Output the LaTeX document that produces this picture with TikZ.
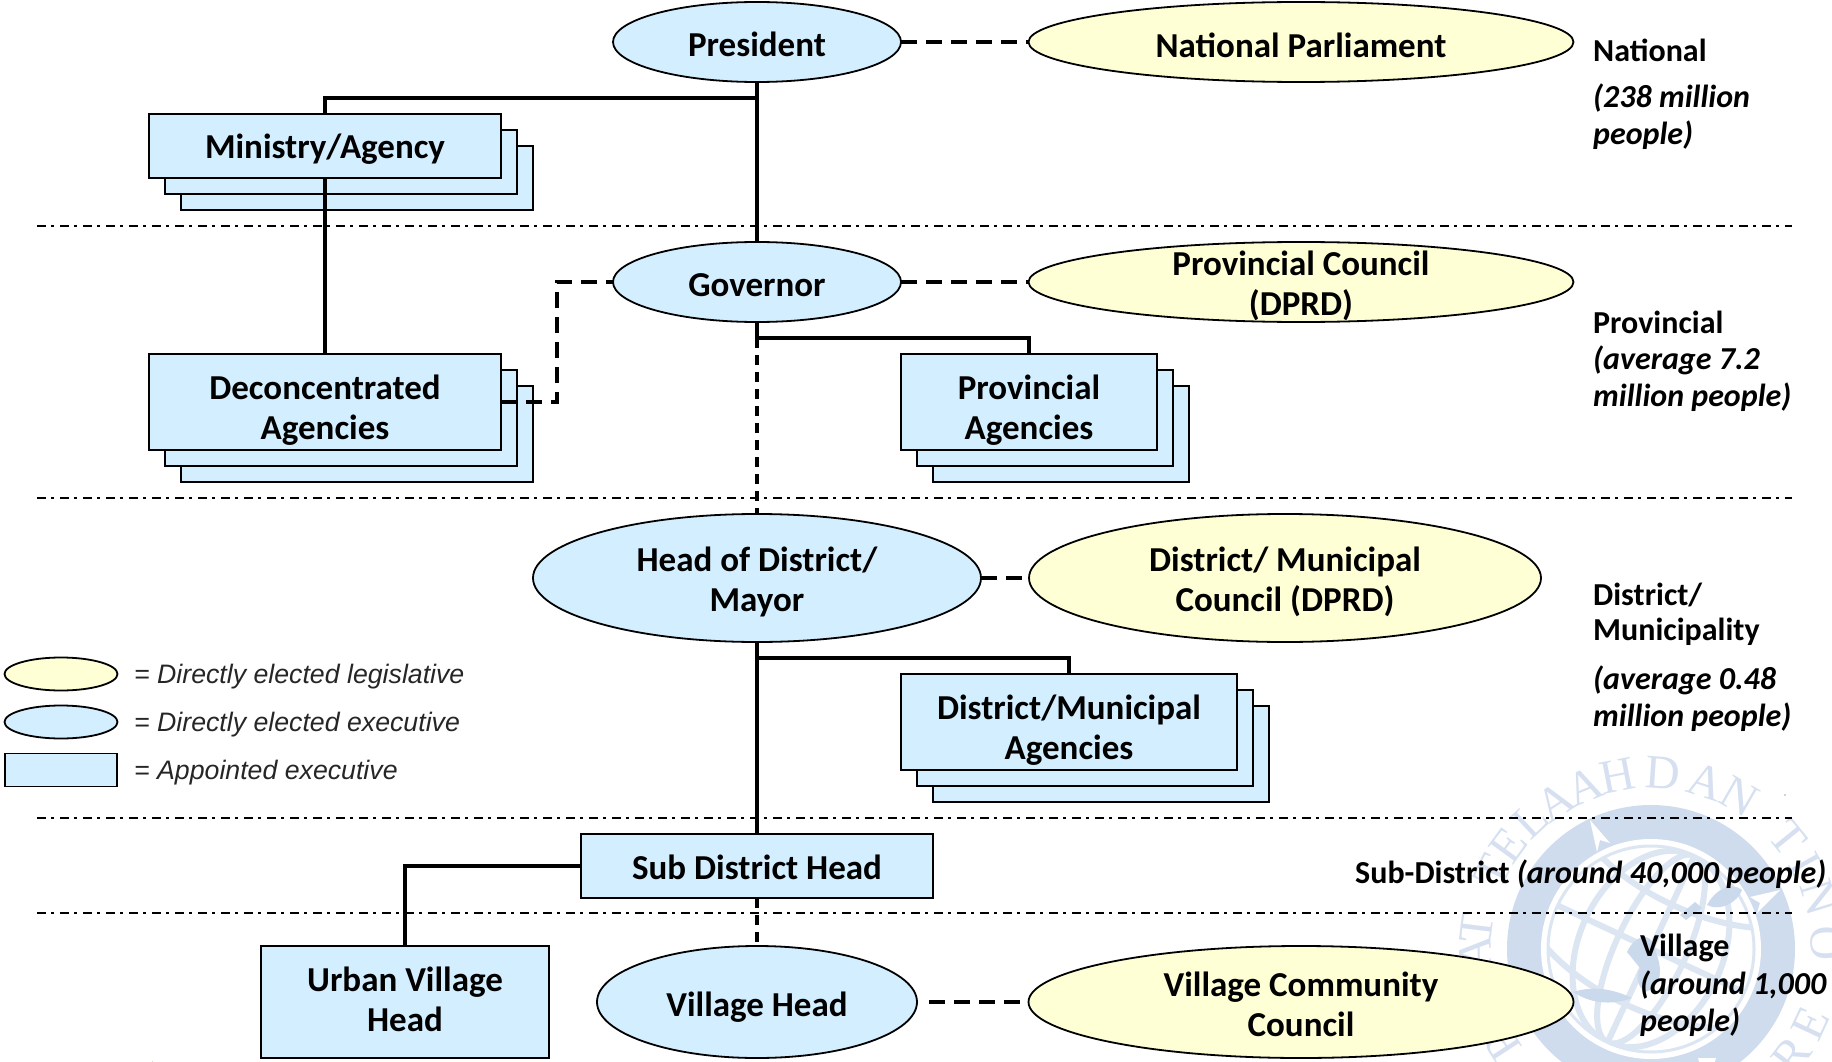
\documentclass[tikz,border=0pt]{standalone}
\usepackage{fontspec}
\setmainfont{Carlito}
\newfontfamily\legendfont{Liberation Sans}
\newfontfamily\sealfont{Liberation Serif}
\usetikzlibrary{shapes.geometric}
\definecolor{boxblue}{HTML}{D3EFFF}
\definecolor{boxyellow}{HTML}{FFFFD5}
\definecolor{sealring}{HTML}{CFDCEE}
\definecolor{sealline}{HTML}{DCE5F2}
\definecolor{sealtext}{HTML}{D6E0F0}
\definecolor{sealland}{HTML}{CBD9EC}
\tikzset{
  ell/.style={ellipse,draw=black,line width=1.8pt,inner sep=0pt,outer sep=0pt},
  execell/.style={ell,fill=boxblue},
  legell/.style={ell,fill=boxyellow},
  rbox/.style={rectangle,draw=black,line width=1.8pt,fill=boxblue,inner sep=0pt,outer sep=0pt},
  lbl/.style={align=center,inner sep=0pt,font=\fontsize{35}{40}\selectfont\bfseries},
  solidconn/.style={draw=black,line width=3.6pt},
  dashconn/.style={draw=black,line width=3.6pt,dash pattern=on 16pt off 9pt},
  dashthin/.style={draw=black,line width=3.4pt,dash pattern=on 10pt off 7pt},
  tierline/.style={draw=black,line width=1.5pt,dash pattern=on 9pt off 5pt on 3pt off 6pt},
  side/.style={anchor=west,inner sep=0pt,font=\fontsize{32}{38}\selectfont\bfseries},
  sideit/.style={side,font=\fontsize{32}{38}\selectfont\bfseries\itshape},
  legtext/.style={anchor=west,inner sep=0pt,font=\legendfont\fontsize{26.7}{30}\selectfont\itshape,text=black!85},
  sealch/.style={text=sealtext,inner sep=0pt,font=\sealfont\fontsize{48}{48}\selectfont}
}
\begin{document}
\begin{tikzpicture}[x=1pt,y=-1pt]
\useasboundingbox (0,0) rectangle (1832,1062);
% watermark seal
\begin{scope}
\clip (0,0) rectangle (1832,1062);
\fill[sealring] (1651,949) circle[radius=144];
\fill[white] (1651,949) circle[radius=110];
\draw[sealline,line width=3pt] (1651,949) circle[radius=103];
\begin{scope}
\clip (1651,949) circle[radius=103];
\begin{scope}[shift={(1651,949)},rotate=-25]
\foreach \rr in {35,72}{\draw[sealline,line width=6pt] (0,0) ellipse[x radius=\rr,y radius=103];}
\draw[sealline,line width=6pt] (0,-103) -- (0,103);
\draw[sealline,line width=6pt] (-103,0) -- (103,0);
\foreach \yy in {-55,55}{\draw[sealline,line width=6pt] (-95,\yy-12) .. controls (-40,\yy+12) and (40,\yy+12) .. (95,\yy-12);}
\end{scope}
\end{scope}
\fill[sealland] (1627,952) .. controls (1635,935) and (1650,932) .. (1653,945) .. controls (1662,965) and (1665,985) .. (1645,992) .. controls (1636,985) and (1636,975) .. (1640,968) -- cycle;
\fill[sealland] (1573,992) .. controls (1595,985) and (1615,990) .. (1632,998) .. controls (1610,1006) and (1590,1003) .. cycle;
\fill[sealland] (1707,905) .. controls (1716,888) and (1733,882) .. (1742,890) .. controls (1738,902) and (1720,912) .. cycle;
\fill[sealland] (1680,915) -- (1695,902) -- (1702,908) -- (1686,920) -- cycle;
\fill[white] (1590,820) -- (1610,843) -- (1600,840) -- (1597,852) -- cycle;
\fill[white] (1780,890) -- (1757,913) -- (1760,903) -- (1750,897) -- cycle;
\fill[white] (1707,1090) -- (1698,1058) -- (1716,1058) -- cycle;
\foreach \ch/\ang in {A/181,T/173,T/154,E/144,L/133,A/123,A/112,H/101,D/86,A/72,N/60,T/39,I/29,N/17,O/2}{
  \node[sealch,rotate=\ang-90] (seal\ang) at ({1651+176*cos(\ang)},{949-176*sin(\ang)}) {\ch};
}
\foreach \ch/\ang in {S/192,U/203,P/213}{
  \node[sealch,rotate=\ang-90] (seal\ang) at ({1651+176*cos(\ang)},{949-176*sin(\ang)}) {\ch};
}
\foreach \ch/\ang in {E/-25,R/-37}{
  \node[sealch,rotate=\ang+90] (seal\ang) at ({1651+176*cos(\ang)},{949-176*sin(\ang)}) {\ch};
}
\fill[gray!70] (1785,795) circle[radius=0.8];
\draw[black!20!red!50!black,line width=1.4pt] (152,1062) arc[start angle=180,end angle=20,radius=4.5];
\end{scope}
% tier lines
\foreach \yy/\nm in {226/a,498/b,818/c,913/d}{
  \coordinate (tl\nm) at (37,\yy);
  \coordinate (tr\nm) at (1792,\yy);
  \draw[tierline] (tl\nm) -- (tr\nm);
}
% stacked back boxes
\node[rbox,minimum width=352pt,minimum height=64pt] (minC) at (357,178) {};
\node[rbox,minimum width=352pt,minimum height=64pt] (minB) at (341,162) {};
\node[rbox,minimum width=352pt,minimum height=96pt] (decC) at (357,434) {};
\node[rbox,minimum width=352pt,minimum height=96pt] (decB) at (341,418) {};
\node[rbox,minimum width=256pt,minimum height=96pt] (provC) at (1061,434) {};
\node[rbox,minimum width=256pt,minimum height=96pt] (provB) at (1045,418) {};
\node[rbox,minimum width=336pt,minimum height=96pt] (distC) at (1101,754) {};
\node[rbox,minimum width=336pt,minimum height=96pt] (distB) at (1085,738) {};
\coordinate (jpres) at (757,98);
\coordinate (jgov) at (757,338);
\coordinate (jdist) at (757,658);
\coordinate (jdec) at (557,402);
\coordinate (jcall) at (929,1002);
% nodes
\node[execell,minimum width=288pt,minimum height=80pt,label={[lbl,yshift=-2pt]center:President}] (pres) at (757,42) {};
\node[legell,minimum width=545pt,minimum height=80pt,label={[lbl,yshift=-3pt]center:National Parliament}] (parl) at (1301,42) {};
\node[rbox,minimum width=352pt,minimum height=64pt,label={[lbl,yshift=-3pt]center:Ministry/Agency}] (min) at (325,146) {};
\node[execell,minimum width=288pt,minimum height=80pt,label={[lbl,yshift=-3pt]center:Governor}] (gov) at (757,282) {};
\node[legell,minimum width=545pt,minimum height=80pt,label={[lbl,yshift=-4pt]center:{Provincial Council\\(DPRD)}}] (pcouncil) at (1301,282) {};
\node[rbox,minimum width=352pt,minimum height=96pt,label={[lbl,yshift=-8pt]center:{Deconcentrated\\Agencies}}] (dec) at (325,402) {};
\node[rbox,minimum width=256pt,minimum height=96pt,label={[lbl,yshift=-8pt]center:{Provincial\\Agencies}}] (prov) at (1029,402) {};
\node[execell,minimum width=448pt,minimum height=128pt,label={[lbl,yshift=-4pt]center:{Head of District/\\Mayor}}] (head) at (757,578) {};
\node[legell,minimum width=512pt,minimum height=128pt,label={[lbl,yshift=-4pt]center:{District/ Municipal\\Council (DPRD)}}] (dcouncil) at (1285,578) {};
\node[rbox,minimum width=336pt,minimum height=96pt,label={[lbl,yshift=-8pt]center:{District/Municipal\\Agencies}}] (dist) at (1069,722) {};
\node[rbox,minimum width=352pt,minimum height=64pt,label={[lbl,yshift=-1pt]center:Sub District Head}] (sub) at (757,866) {};
\node[rbox,minimum width=288pt,minimum height=112pt,label={[lbl,yshift=3pt]center:{Urban Village\\Head}}] (urban) at (405,1002) {};
\node[execell,minimum width=320pt,minimum height=112pt,label={[lbl,yshift=-5pt]center:Village Head}] (vill) at (757,1002) {};
\node[legell,minimum width=545pt,minimum height=112pt,label={[lbl,yshift=-2pt]center:{Village Community\\Council}}] (vcouncil) at (1301,1002) {};
% connectors
\draw[solidconn] (pres.south) -- (gov.north);
\draw[solidconn] (min.north) |- (jpres);
\draw[solidconn] (min.south) -- (dec.north);
\draw[solidconn] (jgov) -| (prov.north);
\draw[solidconn] (gov.south) -- (jgov);
\draw[dashthin] (jgov) -- (head.north);
\draw[solidconn] (head.south) -- (sub.north);
\draw[solidconn] (jdist) -| (dist.north);
\draw[solidconn] (sub.west) -| (urban.north);
\draw[dashthin] (sub.south) -- (vill.north);
\draw[dashconn] (pres.east) -- (parl.west);
\draw[dashconn] (gov.east) -- (pcouncil.west);
\draw[dashconn] (head.east) -- (dcouncil.west);
\draw[dashconn] (jcall) -- (vcouncil.west);
\draw[dashconn] (dec.east) -- (jdec) |- (gov.west);
% side labels
\node[side] (s1) at (1593,50) {National};
\node[sideit] (s2) at (1593,98) {(238 million};
\node[sideit] (s3) at (1593,135) {people)};
\node[side] (s4) at (1593,322) {Provincial};
\node[sideit] (s5) at (1593,360) {(average 7.2};
\node[sideit] (s6) at (1593,397) {million people)};
\node[side] (s7) at (1593,595) {District/};
\node[side] (s8) at (1593,632) {Municipality};
\node[sideit] (s9) at (1593,680) {(average 0.48};
\node[sideit] (s10) at (1593,717) {million people)};
\node[side] (s11) at (1355,874) {Sub-District \textit{(around 40,000 people)}};
\node[side] (s12) at (1640,948) {Village};
\node[sideit] (s13) at (1640,985) {(around 1,000};
\node[sideit] (s14) at (1640,1022) {people)};
% legend
\node[legell,minimum width=113pt,minimum height=33pt] (k1) at (61,674) {};
\node[execell,minimum width=113pt,minimum height=33pt] (k2) at (61,722) {};
\node[rbox,minimum width=112pt,minimum height=33pt] (k3) at (61,770) {};
\node[legtext] (t1) at (134,677) {= Directly elected legislative};
\node[legtext] (t2) at (134,725) {= Directly elected executive};
\node[legtext] (t3) at (134,773) {= Appointed executive};
\end{tikzpicture}
\end{document}
